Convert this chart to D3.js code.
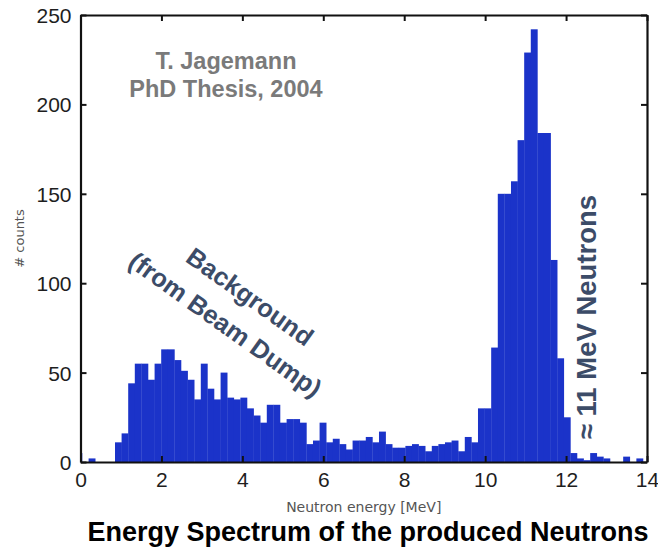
<!DOCTYPE html>
<html>
<head>
<meta charset="utf-8">
<script src="https://cdn.jsdelivr.net/npm/d3@7"></script>
<style>
  html, body { margin: 0; padding: 0; background: #fff; }
  svg { display: block; }
</style>
</head>
<body>
<svg id="chart" width="658" height="549"></svg>
<script>
// Histogram of neutron energies (fixed-width bins, first edge below 0 MeV)
const binStart = -0.126;     // MeV, lower edge of the first bin
const binWidth = 0.1631;     // MeV
const counts = [
  5, 0, 2, 0, 0, 0, 11, 16, 44, 55,
  55, 46, 55, 63, 63, 57, 51, 46, 35, 55,
  41, 35, 50, 36, 35, 36, 30, 26, 22, 32,
  32, 22, 24, 24, 22, 10, 12, 22, 11, 13,
  10, 7, 12, 12, 14, 11, 17, 10, 8, 8,
  9, 10, 9, 6, 9, 10, 11, 12, 6, 14,
  11, 30, 30, 64, 150, 150, 157, 180, 229, 242,
  184, 184, 113, 58, 25, 5, 2, 1, 5, 3,
  2, 0, 0, 3, 0, 2
];
const xTicks = [0, 2, 4, 6, 8, 10, 12, 14];
const yTicks = [0, 50, 100, 150, 200, 250];

const svg = d3.select("#chart");
const W = 658, H = 549;
const margin = { left: 80.5, right: 11, top: 15, bottom: 87 };
const x = d3.scaleLinear().domain([0, 14]).range([margin.left, W - margin.right]);
const y = d3.scaleLinear().domain([0, 250]).range([H - margin.bottom, margin.top]);

const bins = counts.map((c, i) => ({
  x0: binStart + i * binWidth,
  x1: binStart + (i + 1) * binWidth,
  c
}));

svg.append("clipPath").attr("id", "plot-clip")
  .append("rect")
  .attr("x", x(0)).attr("y", y(250))
  .attr("width", x(14) - x(0)).attr("height", y(0) - y(250));

svg.append("g").attr("clip-path", "url(#plot-clip)")
  .selectAll("rect").data(bins.filter(d => d.c > 0)).join("rect")
  .attr("x", d => x(d.x0))
  .attr("width", d => x(d.x1) - x(d.x0) + 0.3)
  .attr("y", d => y(d.c))
  .attr("height", d => y(0) - y(d.c))
  .attr("fill", "#1b33c9");

// Frame: ticks point inward on all four sides
const axisFont = "Liberation Sans, Arial, sans-serif";
const gl = svg.append("g").attr("transform", `translate(${x(0)},0)`)
  .call(d3.axisLeft(y).tickValues(yTicks).tickSizeInner(-6).tickSizeOuter(0).tickPadding(9));
const gr = svg.append("g").attr("transform", `translate(${x(14)},0)`)
  .call(d3.axisRight(y).tickValues(yTicks).tickSizeInner(-6).tickSizeOuter(0).tickFormat(""));
const gb = svg.append("g").attr("transform", `translate(0,${y(0)})`)
  .call(d3.axisBottom(x).tickValues(xTicks).tickSizeInner(-6).tickSizeOuter(0).tickPadding(10));
const gt = svg.append("g").attr("transform", `translate(0,${y(250)})`)
  .call(d3.axisTop(x).tickValues(xTicks).tickSizeInner(-6).tickSizeOuter(0).tickFormat(""));

[gl, gr, gb, gt].forEach(g => {
  g.select(".domain").attr("stroke", "#111").attr("stroke-width", 2.2);
  g.selectAll(".tick line").attr("stroke", "#111").attr("stroke-width", 2);
  g.selectAll(".tick text")
    .attr("font-family", axisFont).attr("font-size", 21)
    .attr("fill", "#1e1e1e");
});
gb.selectAll(".tick text").attr("dy", "0.72em");
gl.selectAll(".tick text").attr("dy", "0.36em");

// Axis titles
svg.append("text")
  .attr("transform", `translate(24,${(y(0) + y(250)) / 2}) rotate(-90)`)
  .attr("text-anchor", "middle")
  .attr("font-family", "DejaVu Sans, sans-serif").attr("font-size", 13)
  .attr("fill", "#555")
  .text("# counts");

svg.append("text")
  .attr("x", (x(0) + x(14)) / 2).attr("y", 512)
  .attr("text-anchor", "middle")
  .attr("font-family", "DejaVu Sans, sans-serif").attr("font-size", 14)
  .attr("fill", "#555")
  .text("Neutron energy [MeV]");

svg.append("text")
  .attr("x", 368).attr("y", 541)
  .attr("text-anchor", "middle")
  .attr("font-family", axisFont).attr("font-weight", "bold").attr("font-size", 27)
  .attr("fill", "#000")
  .text("Energy Spectrum of the produced Neutrons");

// Annotations
const note = svg.append("text")
  .attr("text-anchor", "middle")
  .attr("font-family", axisFont).attr("font-weight", "bold").attr("font-size", 23.5)
  .attr("fill", "#7a7a7a");
note.append("tspan").attr("x", 226).attr("y", 69).text("T. Jagemann");
note.append("tspan").attr("x", 226).attr("y", 97).text("PhD Thesis, 2004");

const slate = "#3c4c68";
const bg = svg.append("text")
  .attr("transform", `translate(237.5,311) rotate(35.5)`)
  .attr("text-anchor", "middle")
  .attr("font-family", axisFont).attr("font-weight", "bold").attr("font-size", 25.5)
  .attr("fill", slate);
bg.append("tspan").attr("x", 2).attr("y", -10).text("Background");
bg.append("tspan").attr("x", -2).attr("y", 27).text("(from Beam Dump)");

svg.append("text")
  .attr("transform", `translate(596,317) rotate(-90)`)
  .attr("text-anchor", "middle")
  .attr("font-family", axisFont).attr("font-weight", "bold").attr("font-size", 27.5)
  .attr("fill", slate)
  .text("≈ 11 MeV Neutrons");
</script>
</body>
</html>
